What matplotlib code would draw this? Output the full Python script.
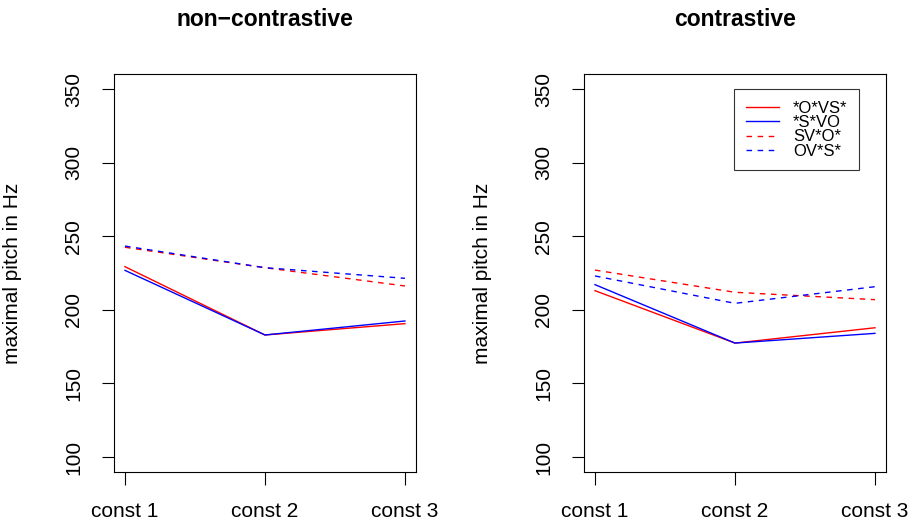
import matplotlib
matplotlib.use("Agg")
import matplotlib.pyplot as plt

# =============================
# DATA
# =============================
positions = [1, 2, 3]
tick_labels = ["const 1", "const 2", "const 3"]
series_names = ["*O*VS*", "*S*VO", "SV*O*", "OV*S*"]

noncontr_OVS = [229.3, 182.9, 190.6]
noncontr_SVO = [226.8, 182.9, 192.4]
noncontr_SVO_nf = [242.5, 228.6, 216.2]
noncontr_OVS_nf = [243.3, 228.6, 221.4]

contr_OVS = [213.0, 177.4, 187.8]
contr_SVO = [217.1, 177.4, 184.0]
contr_SVO_nf = [227.0, 211.9, 206.9]
contr_OVS_nf = [223.0, 204.4, 215.7]

# =============================
# STYLE
# =============================
plt.rcParams["font.family"] = ["Liberation Sans", "DejaVu Sans"]
plt.rcParams["font.size"] = 15

colors = ["red", "blue", "red", "blue"]
styles = ["-", "-", (0, (4, 4)), (0, (4, 4))]

fig = plt.figure(figsize=(9.16, 5.27), dpi=100)
ax1 = fig.add_axes([0.1242, 0.1049, 0.3301, 0.7541])
ax2 = fig.add_axes([0.6373, 0.1049, 0.3301, 0.7541])

panels = [
    (ax1, "non\u2212contrastive",
     [noncontr_OVS, noncontr_SVO, noncontr_SVO_nf, noncontr_OVS_nf]),
    (ax2, "contrastive",
     [contr_OVS, contr_SVO, contr_SVO_nf, contr_OVS_nf]),
]

for ax, title, data in panels:
    for vals, name, c, ls in zip(data, series_names, colors, styles):
        ax.plot(positions, vals, color=c, linestyle=ls, lw=1.0, label=name)

    ax.set_xlim(0.92, 3.08)
    ax.set_ylim(90, 360)
    ax.set_xticks(positions)
    ax.set_xticklabels(tick_labels)
    ax.set_yticks([100, 150, 200, 250, 300, 350])
    for lab in ax.get_yticklabels():
        lab.set_rotation(90)
        lab.set_va("center")
    ax.tick_params(axis="both", direction="out", length=9, width=0.8,
                   colors="black", labelsize=15)
    ax.tick_params(axis="y", pad=13)
    ax.tick_params(axis="x", pad=13)
    for sp in ax.spines.values():
        sp.set_linewidth(0.8)

    ax.set_ylabel("maximal pitch in Hz", fontsize=15)
    ax.yaxis.set_label_coords(-0.302, 0.5)
    ax.text(0.5, 1.137, title, transform=ax.transAxes, ha="center",
            va="center", fontsize=16.5, fontweight="bold")

leg = ax2.legend(loc="upper left", bbox_to_anchor=(0.497, 0.962),
                 frameon=True, fancybox=False, edgecolor="black",
                 fontsize=12, handlelength=2.0, borderpad=0.7,
                 labelspacing=-0.05, handletextpad=0.85, borderaxespad=0)
leg.get_frame().set_linewidth(0.8)

plt.savefig("out.png", dpi=100)
